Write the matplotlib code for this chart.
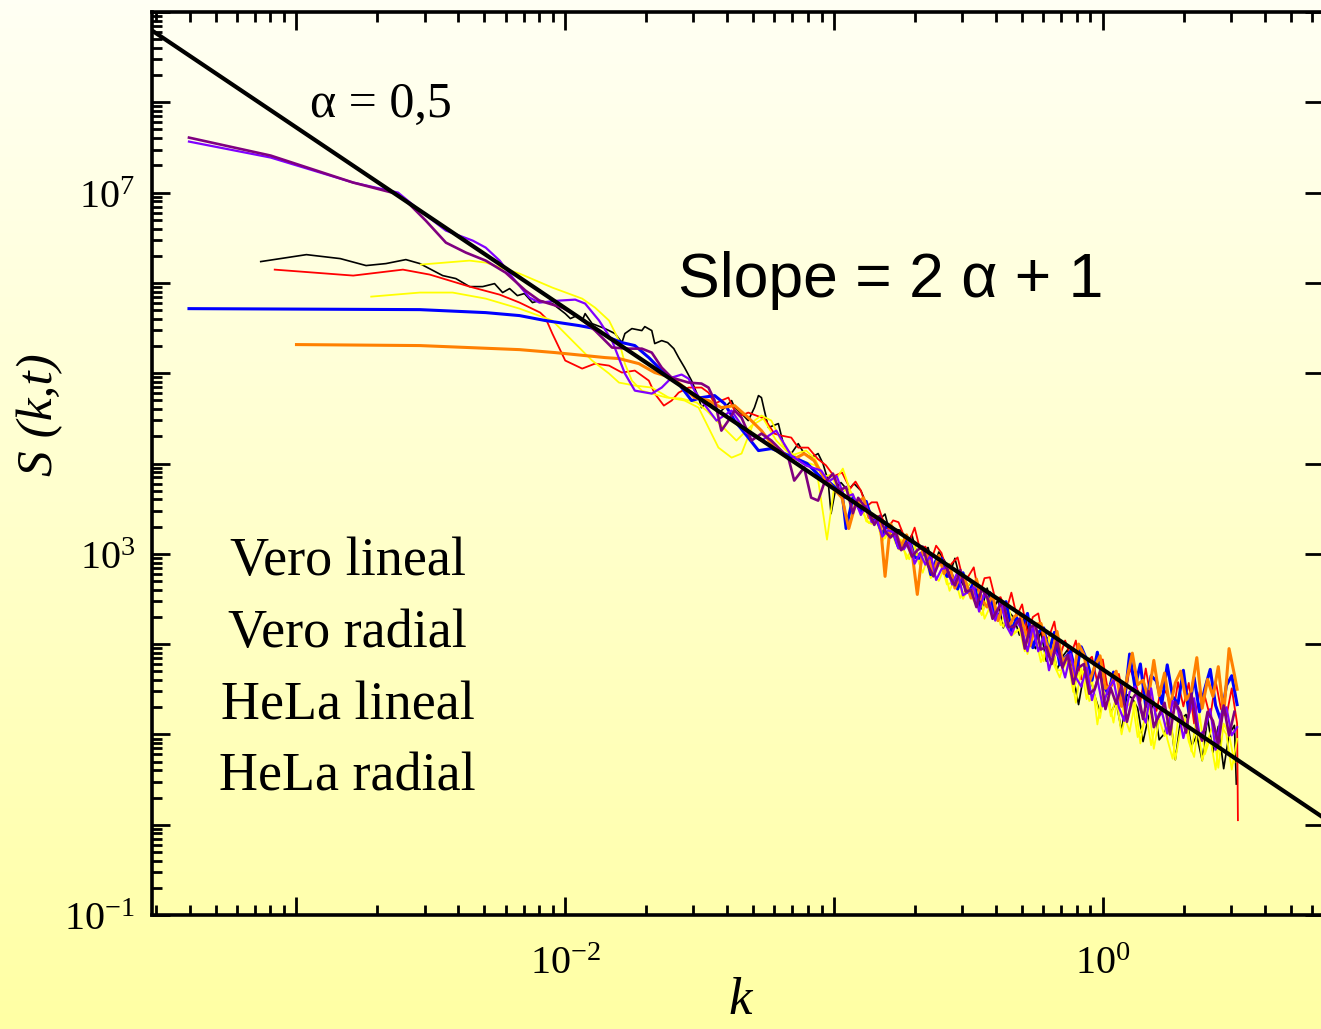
import numpy as np
import matplotlib
matplotlib.use('Agg')
import matplotlib.pyplot as plt
from matplotlib.ticker import LogLocator, FuncFormatter, NullFormatter
from matplotlib.colors import LinearSegmentedColormap

plt.rcParams['mathtext.fontset'] = 'custom'
plt.rcParams['mathtext.rm'] = 'Liberation Serif'
plt.rcParams['mathtext.it'] = 'Liberation Serif:italic'

# all values are log10(k) and log10(S)
lk_g1 = [-0.90, -0.88, -0.86, -0.84, -0.82, -0.80, -0.78, -0.76, -0.74, -0.72, -0.70, -0.68,
         -0.66, -0.64, -0.62, -0.60, -0.58, -0.56, -0.54, -0.52, -0.50, -0.48, -0.46, -0.44,
         -0.42, -0.40, -0.38, -0.36, -0.34, -0.32, -0.30, -0.28, -0.26, -0.24, -0.22, -0.20,
         -0.18, -0.16, -0.14, -0.12, -0.10, -0.08, -0.06, -0.04, -0.02, 0.00, 0.02, 0.04, 0.06,
         0.08, 0.10, 0.12, 0.14, 0.16, 0.18, 0.20, 0.22, 0.24, 0.26, 0.28, 0.30, 0.32, 0.34,
         0.36, 0.38, 0.40, 0.42, 0.44, 0.46, 0.48, 0.50]
lk_g2 = [-0.89, -0.87, -0.85, -0.83, -0.81, -0.79, -0.77, -0.75, -0.73, -0.71, -0.69, -0.67,
         -0.65, -0.63, -0.61, -0.59, -0.57, -0.55, -0.53, -0.51, -0.49, -0.47, -0.45, -0.43,
         -0.41, -0.39, -0.37, -0.35, -0.33, -0.31, -0.29, -0.27, -0.25, -0.23, -0.21, -0.19,
         -0.17, -0.15, -0.13, -0.11, -0.09, -0.07, -0.05, -0.03, -0.01, 0.01, 0.03, 0.05, 0.07,
         0.09, 0.11, 0.13, 0.15, 0.17, 0.19, 0.21, 0.23, 0.25, 0.27, 0.29, 0.31, 0.33, 0.35,
         0.37, 0.39, 0.41, 0.43, 0.45, 0.47, 0.49]

black_lk = [-3.133, -2.963, -2.837, -2.741, -2.667, -2.593, -2.541, -2.456, -2.407, -2.356, -2.307,
            -2.263, -2.233, -2.207, -2.178, -2.152, -2.122, -2.096, -2.048, -2.0, -1.981, -1.956,
            -1.937, -1.926, -1.9, -1.852, -1.815, -1.789, -1.778, -1.752, -1.715, -1.704, -1.678,
            -1.667, -1.641, -1.619, -1.596, -1.578, -1.556, -1.530, -1.504, -1.493, -1.467, -1.430,
            -1.407, -1.381, -1.370, -1.344, -1.319, -1.296, -1.281, -1.270, -1.259, -1.244, -1.226,
            -1.207, -1.185, -1.159, -1.133, -1.111, -1.085, -1.059, -1.041, -1.022, -1.011, -0.993,
            -0.974, -0.948, -0.926, -0.9, -0.874, -0.852]
black_lS = [6.236, 6.313, 6.269, 6.192, 6.214, 6.258, 6.214, 6.081, 6.048, 5.959, 5.959, 5.992,
            5.893, 5.937, 5.859, 5.882, 5.782, 5.804, 5.771, 5.660, 5.605, 5.638, 5.583, 5.660,
            5.549, 5.494, 5.439, 5.339, 5.439, 5.494, 5.472, 5.516, 5.472, 5.328, 5.361, 5.339,
            5.272, 5.173, 5.062, 4.918, 4.730, 4.619, 4.697, 4.553, 4.619, 4.697, 4.619, 4.553,
            4.475, 4.619, 4.752, 4.730, 4.586, 4.398, 4.420, 4.442, 4.176, 4.110, 4.220, 4.110,
            4.065, 4.110, 3.999, 3.811, 3.445, 3.733, 3.789, 3.700, 3.778, 3.700, 3.512, 3.401]
black_tail = [3.38, 3.44, 3.21, 3.27, 3.26, 3.10, 3.21,
              2.98, 3.03, 3.07, 2.84, 3.02, 2.93, 2.77, 2.95, 2.71, 2.61,
              2.69, 2.59, 2.39, 2.62, 2.37, 2.49, 2.18, 2.36, 2.29, 2.10,
              2.31, 2.04, 1.95, 2.14, 1.81, 2.01, 1.72, 1.86, 1.94, 1.65,
              1.33, 1.67, 1.69, 1.43, 1.24, 1.62, 1.24, 1.36, 1.04, 1.44,
              1.40, 1.29, 0.92, 1.19, 1.36, 0.94, 1.01, 1.24, 0.72, 1.17,
              1.22, 0.87, 0.99, 0.71, 1.19, 0.80, 1.09, 0.62, 1.00, 1.10]

red_lk = [-3.081, -2.789, -2.604, -2.504, -2.356, -2.244, -2.170, -2.093, -2.074, -2.048, -2.0,
          -1.937, -1.889, -1.837, -1.789, -1.741, -1.689, -1.667, -1.633, -1.604, -1.578, -1.541,
          -1.493, -1.467, -1.444, -1.419, -1.393, -1.370, -1.344, -1.319, -1.259, -1.222, -1.196,
          -1.159, -1.133, -1.096, -1.06, -1.03, -1.00, -0.97, -0.94, -0.92]
red_lS = [6.147, 6.081, 6.147, 6.092, 5.959, 5.870, 5.782, 5.671, 5.616, 5.439, 5.140, 5.051,
          5.106, 5.084, 5.007, 5.029, 4.918, 4.774, 4.641, 4.697, 4.785, 4.841, 4.841, 4.785,
          4.663, 4.697, 4.730, 4.586, 4.531, 4.564, 4.497, 4.331, 4.309, 4.287, 4.176, 4.176,
          4.05, 3.98, 3.86, 3.90, 3.72, 3.80]
red_tail = [3.70, 3.52, 3.57, 3.57, 3.39, 3.28, 3.37, 3.35, 3.20, 3.13,
            3.29, 3.05, 3.08, 2.91, 3.09, 3.01, 2.81, 2.90, 2.96, 2.72,
            2.75, 2.85, 2.53, 2.73, 2.74, 2.50, 2.52, 2.36, 2.57, 2.31,
            2.44, 2.12, 2.30, 2.34, 2.04, 2.08, 2.25, 1.86, 2.04, 1.87,
            2.04, 1.61, 1.81, 1.86, 1.57, 1.83, 1.47, 1.57, 1.67, 1.35,
            1.73, 1.60, 1.36, 1.73, 1.38, 1.26, 1.54, 1.44, 1.19, 1.58,
            1.31, 1.57, 1.12, 1.47, 1.42, 1.19, 1.59, 1.28, 1.20, 1.51, 1.12]

yellow1_lk = [-2.537, -2.356, -2.296, -2.170, -2.048, -1.937, -1.889, -1.837, -1.8, -1.778, -1.752,
              -1.715, -1.678, -1.622, -1.567, -1.511, -1.474, -1.419, -1.363, -1.307, -1.263,
              -1.215, -1.159, -1.104, -1.07, -1.04, -1.01, -0.98, -0.95, -0.92]
yellow1_lS = [6.203, 6.247, 6.225, 6.103, 5.948, 5.826, 5.726, 5.583, 5.361, 5.106, 4.918, 4.807,
              4.774, 4.730, 4.719, 4.675, 4.586, 4.420, 4.254, 4.420, 4.497, 4.254, 4.088, 4.143,
              4.05, 3.85, 3.88, 3.66, 3.72, 3.52]
yellow1_tail = [3.57, 3.36, 3.33, 3.36, 3.14, 3.25, 3.22, 3.05, 3.04, 2.94,
                3.09, 2.87, 2.96, 2.73, 2.85, 2.88, 2.66, 2.68, 2.78, 2.50,
                2.62, 2.48, 2.60, 2.28, 2.41, 2.43, 2.21, 2.38, 2.09, 2.14,
                2.21, 1.89, 2.16, 2.02, 1.81, 2.08, 1.76, 1.63, 1.83, 1.71,
                1.35, 1.74, 1.39, 1.61, 1.11, 1.47, 1.41, 1.13, 1.50, 1.21,
                1.03, 1.36, 0.90, 1.26, 0.88, 1.16, 1.29, 0.95, 0.73, 1.15,
                1.20, 0.92, 0.75, 1.23, 0.78, 0.96, 0.61, 1.10, 1.00, 0.61, 0.95]

yellow2_lk = [-2.722, -2.541, -2.419, -2.296, -2.170, -2.048, -1.974, -1.9, -1.837, -1.8, -1.741,
              -1.678, -1.615, -1.556, -1.504, -1.467, -1.430, -1.381, -1.344, -1.296, -1.270,
              -1.233, -1.185, -1.122, -1.067, -1.026, -0.996, -0.967, -0.94, -0.915]
yellow2_lS = [5.848, 5.893, 5.893, 5.826, 5.715, 5.583, 5.361, 5.140, 4.996, 4.896, 4.863, 4.841,
              4.730, 4.697, 4.619, 4.398, 4.176, 4.065, 4.110, 4.475, 4.531, 4.475, 4.176, 4.032,
              3.977, 3.157, 3.811, 3.944, 3.70, 3.58]
yellow2_tail = [3.44, 3.34, 3.41, 3.32, 3.17, 3.29, 3.11, 3.16, 2.94, 3.06,
                2.95, 2.79, 2.97, 2.77, 2.70, 2.84, 2.59, 2.73, 2.51, 2.61,
                2.70, 2.46, 2.32, 2.50, 2.51, 2.30, 2.19, 2.41, 2.13, 2.16,
                1.92, 2.18, 2.07, 1.80, 1.94, 2.05, 1.71, 1.71, 1.84, 1.47,
                1.68, 1.70, 1.37, 1.44, 1.18, 1.54, 1.20, 1.41, 1.00, 1.31,
                1.37, 0.97, 1.09, 1.35, 0.84, 1.17, 0.98, 1.25, 0.72, 1.07,
                1.17, 0.81, 1.22, 0.71, 0.93, 1.10, 0.63, 1.12, 1.00, 0.69]

blue_lk = [-3.4, -2.541, -2.296, -2.170, -2.074, -1.948, -1.889, -1.837, -1.789, -1.741, -1.689,
           -1.641, -1.578, -1.530, -1.493, -1.444, -1.407, -1.370, -1.319, -1.281, -1.233, -1.185,
           -1.148, -1.10, -1.05, -1.02, -0.99, -0.97, -0.955, -0.93]
blue_lS = [5.715, 5.704, 5.671, 5.638, 5.583, 5.527, 5.494, 5.394, 5.339, 5.306, 5.173, 5.029,
           4.885, 4.697, 4.730, 4.752, 4.663, 4.475, 4.287, 4.143, 4.165, 4.110, 4.065, 4.00, 3.85,
           3.80, 3.72, 3.68, 3.28, 3.62]
blue_tail = [3.47, 3.58, 3.38, 3.37, 3.22, 3.33, 3.24, 3.07, 3.12, 3.17,
             2.96, 2.95, 3.03, 2.77, 2.93, 2.95, 2.75, 2.76, 2.61, 2.79,
             2.57, 2.68, 2.41, 2.55, 2.57, 2.31, 2.34, 2.47, 2.15, 2.29,
             2.19, 2.34, 1.96, 2.13, 2.18, 1.91, 2.13, 1.77, 1.85, 1.92,
             1.68, 1.97, 1.83, 1.60, 1.91, 1.56, 1.45, 1.69, 1.58, 1.35,
             1.89, 1.52, 1.78, 1.31, 1.65, 1.59, 1.34, 1.77, 1.42, 1.34,
             1.71, 1.25, 1.63, 1.25, 1.51, 1.72, 1.32, 1.15, 1.54, 1.65, 1.33]

orange_lk = [-3.0, -2.541, -2.170, -2.037, -1.926, -1.852, -1.8, -1.726, -1.667, -1.604, -1.556,
             -1.519, -1.467, -1.419, -1.370, -1.319, -1.270, -1.222, -1.159, -1.111, -1.074, -1.037,
             -1.00, -0.97, -0.945, -0.92]
orange_lS = [5.317, 5.306, 5.261, 5.228, 5.195, 5.173, 5.162, 5.106, 5.007, 4.951, 4.841, 4.730,
             4.697, 4.619, 4.641, 4.508, 4.364, 4.176, 4.032, 4.110, 4.032, 3.844,
             3.72, 3.62, 3.28, 3.55]
orange_tail = [3.62, 3.40, 3.41, 3.41, 2.75, 3.33, 3.23, 3.09, 3.21, 3.03,
               2.55, 3.05, 2.96, 2.79, 2.98, 2.78, 2.88, 2.62, 2.76, 2.69,
               2.51, 2.72, 2.49, 2.41, 2.55, 2.26, 2.43, 2.19, 2.30, 2.35,
               2.15, 1.98, 2.22, 2.23, 2.01, 1.87, 2.14, 1.81, 1.87, 1.63,
               2.00, 1.88, 1.58, 1.75, 1.87, 1.51, 1.54, 1.70, 1.31, 1.62,
               1.90, 1.55, 1.60, 1.40, 1.82, 1.43, 1.68, 1.30, 1.57, 1.70,
               1.38, 1.48, 1.85, 1.29, 1.61, 1.42, 1.75, 1.22, 1.95, 1.66]

violet_lk = [-3.4, -3.096, -2.789, -2.622, -2.541, -2.444, -2.344, -2.296, -2.244, -2.196, -2.133,
             -2.096, -2.022, -1.963, -1.926, -1.874, -1.826, -1.778, -1.741, -1.678, -1.641, -1.604,
             -1.567, -1.541, -1.519, -1.493, -1.437, -1.381, -1.326, -1.270, -1.215, -1.159,
             -1.104, -1.048, -1.02, -0.99, -0.96, -0.93]
violet_lS = [7.565, 7.388, 7.111, 7.0, 6.801, 6.579, 6.468, 6.391, 6.247, 6.059, 5.837, 5.782,
             5.804, 5.815, 5.771, 5.583, 5.361, 4.996, 4.807, 4.774, 4.841, 4.951, 4.985, 4.940,
             4.807, 4.697, 4.475, 4.586, 4.342, 4.254, 4.364, 4.088, 3.977, 3.922,
             3.80, 3.86, 3.62, 3.66]
violet_tail = [3.43, 3.53, 3.35, 3.38, 3.19, 3.26, 3.24, 3.06, 3.05, 3.14,
               2.89, 3.01, 2.88, 2.99, 2.71, 2.83, 2.85, 2.66, 2.80, 2.54,
               2.58, 2.63, 2.36, 2.57, 2.45, 2.26, 2.49, 2.21, 2.10, 2.25,
               2.16, 1.92, 2.20, 1.92, 2.08, 1.71, 1.93, 1.84, 1.63, 1.89,
               1.63, 1.53, 1.74, 1.38, 1.61, 1.31, 1.50, 1.60, 1.30, 1.15,
               1.47, 1.53, 1.27, 1.13, 1.51, 1.15, 1.25, 1.01, 1.37, 1.27,
               0.96, 1.21, 1.40, 0.99, 1.05, 1.28, 0.83, 1.22, 1.30, 0.99, 1.08]

purple_lk = [-3.4, -3.096, -2.789, -2.630, -2.593, -2.519, -2.444, -2.370, -2.296, -2.222, -2.148,
             -2.096, -2.011, -1.948, -1.889, -1.826, -1.763, -1.715, -1.678, -1.641, -1.604,
             -1.541, -1.493, -1.467, -1.444, -1.419, -1.393, -1.370, -1.344, -1.307, -1.270,
             -1.233, -1.196, -1.170, -1.148, -1.111, -1.085, -1.059, -1.037, -1.004,
             -0.98, -0.955, -0.93, -0.91]
purple_lS = [7.609, 7.410, 7.111, 6.989, 6.911, 6.690, 6.446, 6.336, 6.247, 6.114, 5.915, 5.804,
             5.726, 5.616, 5.472, 5.284, 5.272, 5.272, 5.228, 5.062, 4.951, 4.896, 4.885, 4.841,
             4.697, 4.364, 4.475, 4.586, 4.508, 4.254, 4.331, 4.254, 4.143, 4.065, 3.811, 3.955,
             3.622, 3.589, 3.778, 3.888, 3.70, 3.74, 3.45, 3.62]
purple_tail = [3.54, 3.46, 3.32, 3.42, 3.25, 3.18, 3.24, 3.04, 3.12, 2.97,
               3.04, 3.08, 2.87, 2.75, 2.90, 2.92, 2.75, 2.65, 2.82, 2.58,
               2.60, 2.41, 2.61, 2.52, 2.28, 2.39, 2.47, 2.19, 2.19, 2.28,
               1.95, 2.19, 2.21, 1.94, 1.97, 1.78, 2.04, 1.74, 1.88, 1.56,
               1.74, 1.78, 1.45, 1.50, 1.70, 1.28, 1.51, 1.34, 1.54, 1.14,
               1.39, 1.48, 1.17, 1.48, 1.08, 1.22, 1.35, 1.00, 1.36, 1.24,
               1.02, 1.45, 1.07, 0.93, 1.25, 1.15, 0.89, 1.32, 0.99, 1.25]

# fitted power law S = A k^-(2 alpha + 1), alpha = 0.5
fit_logA = 1.72
fit_slope = -2.0
fit_k = [2.9e-4, 7.0]

labels = ['Vero lineal', 'Vero radial', 'HeLa lineal', 'HeLa radial']

# (head lk, head lS, tail grid, tail lS, end points, colour, width)
series = [
    (black_lk, black_lS, lk_g2, black_tail, ([0.497], [0.45]), '#000000', 1.2),
    (red_lk, red_lS, lk_g1, red_tail, ([0.503], [0.05]), '#ff0000', 1.3),
    (yellow1_lk, yellow1_lS, lk_g1, yellow1_tail, ([], []), '#ffff00', 1.3),
    (yellow2_lk, yellow2_lS, lk_g2, yellow2_tail, ([], []), '#ffff00', 1.3),
    (blue_lk, blue_lS, lk_g1, blue_tail, ([], []), '#0000ff', 2.2),
    (orange_lk, orange_lS, lk_g2, orange_tail, ([0.50], [1.50]), '#ff8000', 2.2),
    (violet_lk, violet_lS, lk_g1, violet_tail, ([], []), '#8000ff', 1.6),
    (purple_lk, purple_lS, lk_g2, purple_tail, ([], []), '#800080', 1.9),
]

W, H = 1321, 1029
fig = plt.figure(figsize=(W / 100, H / 100), dpi=100)

bg = fig.add_axes([0, 0, 1, 1], zorder=-10)
cmap = LinearSegmentedColormap.from_list('bg', ['#fffff4', '#ffffa4'])
bg.imshow(np.linspace(0, 1, 256).reshape(-1, 1), aspect='auto', cmap=cmap,
          extent=[0, 1, 0, 1], origin='upper')
bg.axis('off')

ax = fig.add_axes([152 / W, (H - 915) / H, (1323 - 152) / W, (915 - 12) / H])
ax.set_facecolor('none')

for hx, hy, grid, tail, end, col, lw in series:
    xs = list(hx) + list(grid[-len(tail):]) + list(end[0])
    ys = list(hy) + list(tail) + list(end[1])
    ax.plot(10 ** np.array(xs), 10 ** np.array(ys), color=col, lw=lw)

kf = np.array(fit_k)
ax.plot(kf, 10 ** fit_logA * kf ** fit_slope, color='black', lw=3.0, zorder=5)

ax.set_xscale('log')
ax.set_yscale('log')
ax.set_xlim(2.9e-4, 6.6)
ax.set_ylim(1e-1, 1e9)

def xfmt(v, pos):
    e = int(round(np.log10(v)))
    return r'$\mathrm{10^{%d}}$' % e if e in (-2, 0) else ''

def yfmt(v, pos):
    e = int(round(np.log10(v)))
    return r'$\mathrm{10^{%d}}$' % e if e in (-1, 3, 7) else ''

ax.xaxis.set_major_locator(LogLocator(base=10, numticks=30))
ax.xaxis.set_minor_locator(LogLocator(base=10, subs=np.arange(2, 10), numticks=30))
ax.yaxis.set_major_locator(LogLocator(base=10, numticks=30))
ax.yaxis.set_minor_locator(LogLocator(base=10, subs=np.arange(2, 10), numticks=30))
ax.xaxis.set_major_formatter(FuncFormatter(xfmt))
ax.yaxis.set_major_formatter(FuncFormatter(yfmt))
ax.xaxis.set_minor_formatter(NullFormatter())
ax.yaxis.set_minor_formatter(NullFormatter())

ax.tick_params(which='both', direction='in', top=True, right=True, width=2.0,
               labelsize=29, colors='black')
ax.tick_params(which='major', length=13, pad=12)
ax.tick_params(axis='x', which='major', pad=20)
ax.tick_params(which='minor', length=7)
ax.tick_params(axis='y', which='minor', right=False)
for s in ax.spines.values():
    s.set_linewidth(2.6)

serif = 'Liberation Serif'
ax.text(0.135, 0.897, 'α = 0,5', transform=ax.transAxes, fontsize=36, family=serif,
        ha='left', va='center')
ax.text(0.449, 0.703, 'Slope = 2 α + 1', transform=ax.transAxes, fontsize=45,
        family='Liberation Sans', ha='left', va='center')
for lab, yy in zip(labels, [0.391, 0.311, 0.231, 0.152]):
    ax.text(0.167, yy, lab, transform=ax.transAxes, fontsize=39, family=serif,
            ha='center', va='center')

fig.text(40 / W, 1 - 415 / H, 'S (k,t)', rotation=90, fontsize=37, family=serif,
         style='italic', ha='center', va='center')
fig.text(740 / W, 1 - 1001 / H, 'k', fontsize=38, family=serif, style='italic',
         ha='center', va='center')

fig.savefig('out.png', dpi=100)
